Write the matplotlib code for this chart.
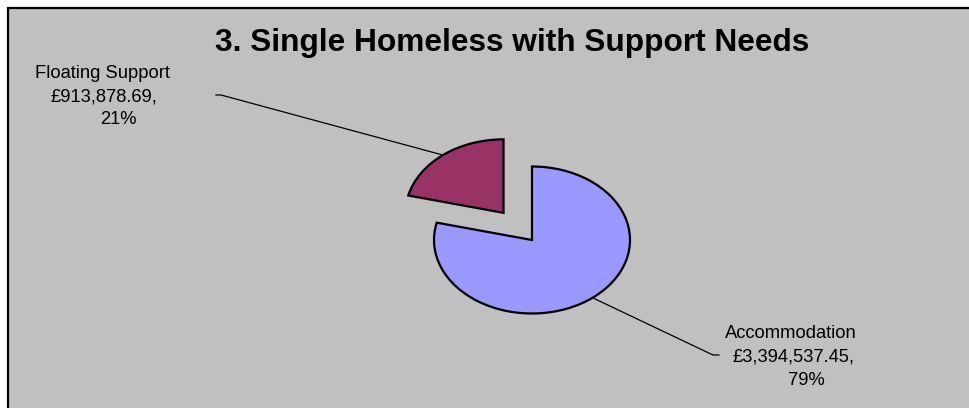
import numpy as np
import matplotlib
matplotlib.use("Agg")
import matplotlib.pyplot as plt
from matplotlib.patches import Rectangle

# ---- data ----
title = "3. Single Homeless with Support Needs"
categories = ["Floating Support", "Accommodation"]
values = [913878.69, 3394537.45]
colors = ["#993366", "#9999FF"]
explode = [0.47, 0.0]

W, H = 970, 408
fig = plt.figure(figsize=(W / 100, H / 100), dpi=100, facecolor="white")
FONT = ["Liberation Sans", "DejaVu Sans"]

# overlay axes in pixel coordinates (y down)
ov = fig.add_axes([0, 0, 1, 1])
ov.set_xlim(0, W)
ov.set_ylim(H, 0)
ov.axis("off")
ov.add_patch(Rectangle((8.5, 7.5), W + 20, H + 20, facecolor="#C0C0C0",
                       edgecolor="black", lw=1.6, zorder=0))

# pie axes: ellipse rx=98px, ry=73.5px centred at (532, 240)
cx, cy, rx, ry = 532, 240, 98, 73.5
k = 2.0
ax = fig.add_axes([(cx - k * rx) / W, (H - cy - k * ry) / H, 2 * k * rx / W, 2 * k * ry / H])
ax.set_zorder(2)
total = sum(values)
fracs = [v / total for v in values]
wedges, _ = ax.pie(values, colors=colors, explode=explode, startangle=90,
                   counterclock=True, radius=1.0,
                   wedgeprops=dict(edgecolor="black", linewidth=1.6))
ax.set_aspect("auto")
ax.set_xlim(-k, k)
ax.set_ylim(-k, k)
ax.axis("off")
ax.patch.set_alpha(0)

# leader line anchor points (mid-angle of each wedge, on outer arc)
mids = []
ang = 90.0
for f in fracs:
    mids.append(ang + f * 180.0)
    ang += f * 360.0

def arc_point(i):
    a = np.deg2rad(mids[i])
    ex = explode[i]
    px, py = (1 + ex) * np.cos(a), (1 + ex) * np.sin(a)
    disp = ax.transData.transform((px, py))
    return ov.transData.inverted().transform(disp)

fig.canvas.draw()
p0 = arc_point(0)
p1 = arc_point(1)

ov2 = fig.add_axes([0, 0, 1, 1])
ov2.set_xlim(0, W)
ov2.set_ylim(H, 0)
ov2.axis("off")
ov2.set_zorder(1)
ov2.plot([216, 221, p0[0]], [95, 95, p0[1]], color="black", lw=0.9)
ov2.plot([p1[0], 713, 719], [p1[1], 355, 355], color="black", lw=0.9)

# title
ov.text(512, 51.5, title, ha="center", va="baseline", fontsize=22.8,
        fontweight="bold", family=FONT, zorder=5)

def money(v):
    return "£{:,.2f},".format(v)

def pct(f):
    return "{:.0f}%".format(f * 100)

fs = 13.2
label_pos = [
    [(102, 77.5), (104, 101.5), (118, 124.5)],
    [(791, 337.5), (794, 361.5), (806.5, 385)],
]
for i in range(len(categories)):
    lines = [categories[i], money(values[i]), pct(fracs[i])]
    for (x, y), s in zip(label_pos[i], lines):
        ov.text(x, y, s, ha="center", va="baseline", fontsize=fs,
                family=FONT, zorder=5)

fig.savefig("out.png", dpi=100, facecolor="white")
